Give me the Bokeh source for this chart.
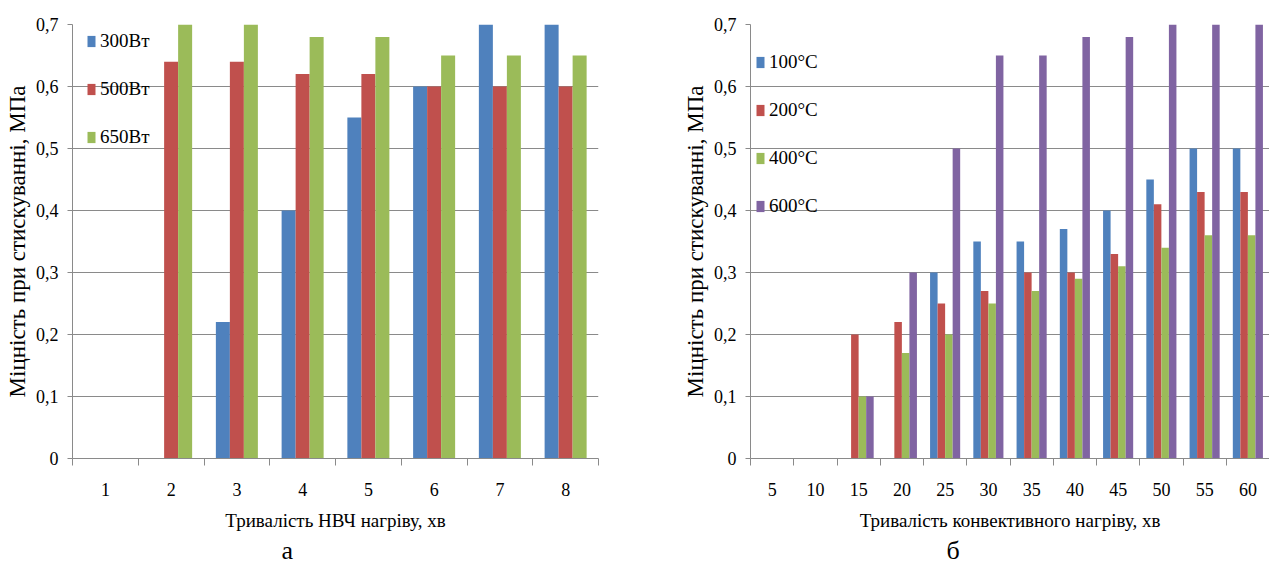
import numpy as np
from bokeh.plotting import figure
from bokeh.layouts import row
from bokeh.models import (FixedTicker, CustomJSTickFormatter, Legend, LegendItem,
                          Title, Range1d)
from bokeh.embed import file_html
from bokeh.resources import INLINE

FONT = "Liberation Serif"
GRID = "#8a8a8a"

# ---- chart а: microwave heating ----
cats_a = ["1", "2", "3", "4", "5", "6", "7", "8"]
w300 = [0, 0, 0.22, 0.40, 0.55, 0.60, 0.70, 0.70]
w500 = [0, 0.64, 0.64, 0.62, 0.62, 0.60, 0.60, 0.60]
w650 = [0, 0.70, 0.70, 0.68, 0.68, 0.65, 0.65, 0.65]
names_a = ["300Вт", "500Вт", "650Вт"]
title_a = "Тривалість НВЧ нагріву, хв"

# ---- chart б: convective heating ----
cats_b = ["5", "10", "15", "20", "25", "30", "35", "40", "45", "50", "55", "60"]
t100 = [0, 0, 0, 0, 0.30, 0.35, 0.35, 0.37, 0.40, 0.45, 0.50, 0.50]
t200 = [0, 0, 0.20, 0.22, 0.25, 0.27, 0.30, 0.30, 0.33, 0.41, 0.43, 0.43]
t400 = [0, 0, 0.10, 0.17, 0.20, 0.25, 0.27, 0.29, 0.31, 0.34, 0.36, 0.36]
t600 = [0, 0, 0.10, 0.30, 0.50, 0.65, 0.65, 0.68, 0.68, 0.70, 0.70, 0.70]
names_b = ["100°C", "200°C", "400°C", "600°C"]
title_b = "Тривалість конвективного нагріву, хв"

y_ticks = [0, 0.1, 0.2, 0.3, 0.4, 0.5, 0.6, 0.7]
y_tick_labels = ["0", "0,1", "0,2", "0,3", "0,4", "0,5", "0,6", "0,7"]
y_title = "Міцність при стискуванні, МПа"

colors = ["#4F81BD", "#C0504D", "#9BBB59", "#8064A2"]

ITEM_H = 22
HEIGHT = 571
TOP = 24
BOTTOM = 113


def make_chart(cats, series, names, xtitle, letter, width, bl, br,
               bar_w, leg_x, leg_top, leg_spacing, letter_off,
               tick_standoff, title_standoff):
    n = len(cats)
    p = figure(width=width, height=HEIGHT, output_backend="svg", toolbar_location=None,
               x_range=Range1d(0, n), y_range=Range1d(0, 0.7),
               min_border_left=bl, min_border_right=br, min_border_top=TOP,
               min_border_bottom=BOTTOM)
    p.outline_line_color = None
    p.background_fill_color = "white"
    p.border_fill_color = "white"
    k = len(series)
    centers = np.arange(n) + 0.5
    rends = []
    for i, (vals, c) in enumerate(zip(series, colors)):
        off = (i - (k - 1) / 2) * bar_w
        r = p.vbar(x=centers + off, top=vals, width=bar_w, bottom=0,
                   fill_color=c, line_color=None)
        rends.append(r)
    # x axis
    xa = p.xaxis[0]
    xa.ticker = FixedTicker(ticks=list(centers), minor_ticks=list(range(n + 1)))
    xa.formatter = CustomJSTickFormatter(args=dict(labels=cats),
                                         code="return labels[Math.floor(tick)];")
    xa.major_tick_line_color = None
    xa.major_tick_out = 7
    xa.major_tick_in = 0
    xa.minor_tick_line_color = GRID
    xa.minor_tick_out = 7
    xa.minor_tick_in = 0
    xa.axis_line_color = GRID
    xa.major_label_standoff = tick_standoff
    xa.major_label_text_font = FONT
    xa.major_label_text_font_size = "18px"
    xa.major_label_text_color = "black"
    xa.axis_label = xtitle
    xa.axis_label_text_font = FONT
    xa.axis_label_text_font_size = "19px"
    xa.axis_label_text_font_style = "normal"
    xa.axis_label_text_color = "black"
    xa.axis_label_standoff = title_standoff
    # y axis
    ya = p.yaxis[0]
    ya.ticker = FixedTicker(ticks=y_ticks)
    ya.formatter = CustomJSTickFormatter(args=dict(labels=y_tick_labels),
                                         code="return labels[Math.round(tick*10)];")
    ya.major_tick_out = 5
    ya.major_tick_in = 0
    ya.major_tick_line_color = GRID
    ya.minor_tick_line_color = None
    ya.axis_line_color = GRID
    ya.major_label_standoff = 9
    ya.major_label_text_font = FONT
    ya.major_label_text_font_size = "18px"
    ya.major_label_text_color = "black"
    ya.axis_label = y_title
    ya.axis_label_text_font = FONT
    ya.axis_label_text_font_size = "23px"
    ya.axis_label_text_font_style = "normal"
    ya.axis_label_text_color = "black"
    ya.axis_label_standoff = 3
    # grid
    p.xgrid.grid_line_color = None
    p.ygrid.grid_line_color = GRID
    p.ygrid.grid_line_width = 1
    p.ygrid.ticker = FixedTicker(ticks=y_ticks)
    # legend
    frame_h = HEIGHT - TOP - BOTTOM
    leg_h = k * ITEM_H + (k - 1) * leg_spacing
    items = [LegendItem(label=nm, renderers=[r]) for nm, r in zip(names, rends)]
    leg = Legend(items=items, location=(leg_x, frame_h - leg_top - leg_h),
                 padding=0, margin=0, spacing=leg_spacing,
                 glyph_width=10, glyph_height=14, label_height=ITEM_H,
                 label_standoff=4, label_text_font=FONT,
                 label_text_font_size="19px", label_text_color="black",
                 background_fill_alpha=0, border_line_color=None)
    p.add_layout(leg)
    p.add_layout(Title(text=letter, align="left", offset=letter_off,
                       text_font=FONT, text_font_size="26px",
                       text_font_style="normal", text_color="black",
                       standoff=0), "below")
    return p


p1 = make_chart(cats_a, [w300, w500, w650], names_a, title_a, "а",
                width=640, bl=72, br=42,
                bar_w=0.213, leg_x=14, leg_top=6, leg_spacing=26,
                letter_off=209, tick_standoff=17, title_standoff=11)
p2 = make_chart(cats_b, [t100, t200, t400, t600], names_b, title_b, "б",
                width=629, bl=110, br=0,
                bar_w=0.174, leg_x=5, leg_top=27, leg_spacing=26,
                letter_off=196, tick_standoff=17, title_standoff=11)

layout = row(p1, p2)
open("out.html", "w").write(file_html(layout, INLINE))
